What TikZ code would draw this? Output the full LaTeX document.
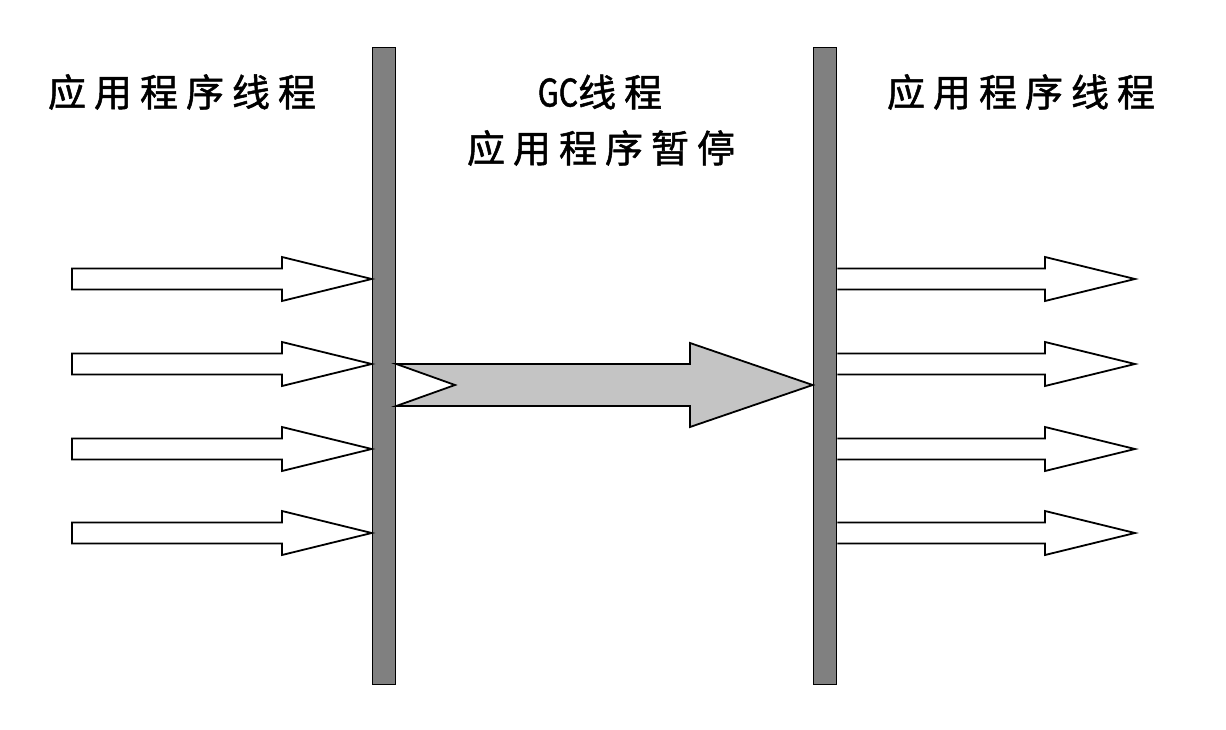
\documentclass[tikz,border=0pt]{standalone}
\usepackage{fontspec}
\newfontfamily\cjk[LetterSpace=21,FakeBold=1.3]{Noto Sans CJK SC}
\newfontfamily\cjklat[FakeBold=1.3,FakeStretch=0.8]{Noto Sans CJK SC}
\begin{document}
\begin{tikzpicture}[x=1pt,y=-1pt,
  bar/.style={draw=black,line width=1.6pt,fill=barfill},
  thinarrow/.style={draw=black,line width=1.8pt,fill=white,line join=miter},
  bigarrow/.style={draw=black,line width=1.8pt,fill=bigfill,line join=miter},
  lbl/.style={font=\cjk\fontsize{38}{50}\selectfont,inner sep=0pt,align=center}]
\definecolor{barfill}{HTML}{808080}
\definecolor{bigfill}{HTML}{C4C4C4}
\useasboundingbox[fill=white] (0,0) rectangle (1226,730);
% bars
\node[bar,minimum width=23pt,minimum height=637pt,inner sep=0pt] (lbar) at (384,366) {};
\node[bar,minimum width=23pt,minimum height=637pt,inner sep=0pt] (rbar) at (825,366) {};
% labels
\node[lbl] (ltxt) at (182,92) {应用程序线程};
\node[lbl] (mtxt1) at (600,92) {{\cjklat\fontsize{38}{50}\selectfont GC}线程};
\node[lbl] (mtxt2) at (601,148) {应用程序暂停};
\node[lbl] (rtxt) at (1021,92) {应用程序线程};
% left incoming and right outgoing arrows
\foreach \y [count=\i] in {279,364,449,533}{
  \draw[thinarrow] (72,\y-10.5) -- (282,\y-10.5) -- (282,\y-22) -- (lbar.west |- 0,\y) -- (282,\y+22) -- (282,\y+10.5) -- (72,\y+10.5) -- cycle;
  \coordinate (rtip\i) at (1135,\y);
  \draw[thinarrow] (rbar.east |- 0,\y-10.5) -- (1045,\y-10.5) -- (1045,\y-22) -- (rtip\i) -- (1045,\y+22) -- (1045,\y+10.5) -- (rbar.east |- 0,\y+10.5);
}
% big GC arrow
\draw[bigarrow] (lbar.east |- 0,364) -- (690,364) -- (690,343) -- (rbar.west |- 0,385) -- (690,427) -- (690,406) -- (lbar.east |- 0,406) -- (455,385) -- cycle;
\end{tikzpicture}
\end{document}
